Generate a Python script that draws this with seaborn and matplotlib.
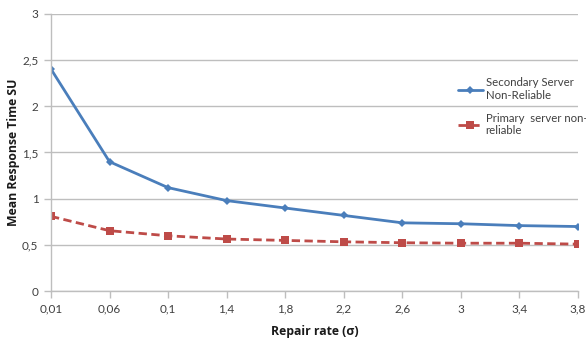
import numpy as np
import pandas as pd
import matplotlib
matplotlib.use("Agg")
import matplotlib.pyplot as plt
import seaborn as sns

repair_rates = ["0,01", "0,06", "0,1", "1,4", "1,8", "2,2", "2,6", "3", "3,4", "3,8"]
secondary = [2.40, 1.40, 1.12, 0.98, 0.90, 0.82, 0.74, 0.73, 0.71, 0.70]
primary = [0.81, 0.655, 0.60, 0.565, 0.55, 0.535, 0.525, 0.52, 0.52, 0.51]
y_ticks = [0, 0.5, 1, 1.5, 2, 2.5, 3]
y_labels = ["0", "0,5", "1", "1,5", "2", "2,5", "3"]

sns.set_theme(style="white")
plt.rcParams["font.family"] = ["Lato", "DejaVu Sans"]

pos = np.arange(len(repair_rates))
df = pd.DataFrame({"pos": pos, "secondary": secondary, "primary": primary})

fig = plt.figure(figsize=(5.86, 3.38), dpi=100)
ax = fig.add_axes([0.087, 0.138, 0.899, 0.822])

sns.lineplot(data=df, x="pos", y="secondary", ax=ax, color="#4A7EBB",
             linewidth=2, marker="D", markersize=4, markeredgewidth=0,
             label="Secondary Server\nNon-Reliable")
sns.lineplot(data=df, x="pos", y="primary", ax=ax, color="#BE4B48",
             linewidth=2, linestyle=(0, (3, 1.6)), marker="s", markersize=6,
             markeredgewidth=0, label="Primary  server non-\nreliable")

ax.set_xlim(0, len(repair_rates) - 1)
ax.set_ylim(0, 3)
ax.set_xticks(pos)
ax.set_xticklabels(repair_rates, fontsize=8.5, color="#404040")
ax.set_yticks(y_ticks)
ax.set_yticklabels(y_labels, fontsize=8.5, color="#404040")
ax.grid(axis="y", color="#BEBEBE", linewidth=1)
ax.set_axisbelow(True)

for side in ["top", "right"]:
    ax.spines[side].set_visible(False)
for side in ["left", "bottom"]:
    ax.spines[side].set_color("#BEBEBE")
    ax.spines[side].set_linewidth(1)
ax.tick_params(axis="both", which="major", length=5, width=1, color="#BEBEBE",
               direction="out", bottom=True, left=True, pad=4)

label_font = dict(family=["Open Sans", "DejaVu Sans"], fontsize=8.8,
                  fontweight="bold", color="#1a1a1a", va="center")
ax.set_xlabel("Repair rate (\u03c3)", **label_font)
ax.set_ylabel("Mean Response Time SU", **label_font)
ax.xaxis.set_label_coords(0.5, -0.146)
ax.yaxis.set_label_coords(-0.072, 0.5)

leg = ax.legend(loc="upper left", bbox_to_anchor=(0.772, 0.77), frameon=False,
                fontsize=8.2, handlelength=2.2, handletextpad=0.25,
                labelspacing=1.0, borderaxespad=0, borderpad=0)
for t in leg.get_texts():
    t.set_color("#404040")

fig.savefig("out.png", dpi=100)
